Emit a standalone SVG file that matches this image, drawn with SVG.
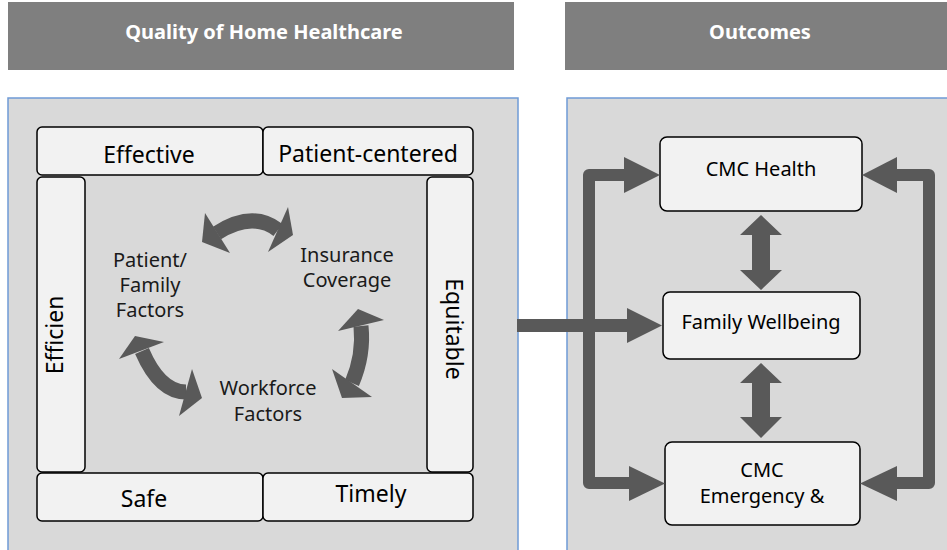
<svg xmlns="http://www.w3.org/2000/svg" width="947" height="550" viewBox="0 0 947 550">
  <style>
    .hdr { fill: #7f7f7f; }
    .hdr-t { font-family: "Noto Sans", "Liberation Sans", sans-serif; font-weight: bold; font-size: 20px; fill: #ffffff; text-anchor: middle; }
    .panel { fill: #d9d9d9; stroke: #6f9bd6; stroke-width: 1.5; }
    .box { fill: #f2f2f2; stroke: #000000; stroke-width: 1.5; }
    .lbl { font-family: "Noto Sans", "Liberation Sans", sans-serif; font-size: 23px; fill: #000000; text-anchor: middle; }
    .ctr { font-family: "Noto Sans", "Liberation Sans", sans-serif; font-size: 20px; fill: #1a1a1a; text-anchor: middle; }
    .out { font-family: "Noto Sans", "Liberation Sans", sans-serif; font-size: 20px; fill: #000000; text-anchor: middle; }
    .arr { fill: #595959; }
    .band { fill: none; stroke: #595959; stroke-width: 15; }
    .bar { fill: none; stroke: #595959; stroke-width: 12; stroke-linejoin: round; }
  </style>

  <!-- column headers -->
  <g id="header-quality">
    <rect class="hdr" x="8" y="2" width="506" height="68"/>
    <text class="hdr-t" x="264" y="39">Quality of Home Healthcare</text>
  </g>
  <g id="header-outcomes">
    <rect class="hdr" x="565" y="2" width="390" height="68"/>
    <text class="hdr-t" x="760" y="39">Outcomes</text>
  </g>

  <!-- background panels -->
  <g id="panel-quality">
    <rect class="panel" x="8" y="98" width="510" height="470"/>
  </g>
  <g id="panel-outcomes">
    <rect class="panel" x="567" y="98" width="400" height="470"/>
  </g>

  <!-- quality domains framing the factors -->
  <g id="effective">
    <rect class="box" x="37" y="127" width="226" height="48" rx="5"/>
    <text class="lbl" x="149" y="163">Effective</text>
  </g>
  <g id="patient-centered">
    <rect class="box" x="263" y="127" width="210" height="48" rx="5"/>
    <text class="lbl" x="368" y="162">Patient-centered</text>
  </g>
  <g id="efficient">
    <rect class="box" x="37" y="177" width="48" height="295" rx="5"/>
    <text class="lbl" transform="translate(63,335) rotate(-90)">Efficien</text>
  </g>
  <g id="equitable">
    <rect class="box" x="427" y="177" width="46" height="295" rx="5"/>
    <text class="lbl" transform="translate(446,329) rotate(90)">Equitable</text>
  </g>
  <g id="safe">
    <rect class="box" x="37" y="473" width="226" height="48" rx="5"/>
    <text class="lbl" x="144" y="507">Safe</text>
  </g>
  <g id="timely">
    <rect class="box" x="263" y="473" width="210" height="48" rx="5"/>
    <text class="lbl" x="371" y="502">Timely</text>
  </g>

  <!-- factors inside the frame -->
  <g id="patient-family-factors">
    <text class="ctr" x="150" y="267">Patient/</text>
    <text class="ctr" x="150" y="292">Family</text>
    <text class="ctr" x="150" y="317">Factors</text>
  </g>
  <g id="insurance-coverage">
    <text class="ctr" x="347" y="262">Insurance</text>
    <text class="ctr" x="347" y="287">Coverage</text>
  </g>
  <g id="workforce-factors">
    <text class="ctr" x="268" y="395">Workforce</text>
    <text class="ctr" x="268" y="421">Factors</text>
  </g>

  <!-- outcome boxes -->
  <g id="cmc-health">
    <rect class="box" x="660" y="137" width="202" height="74" rx="7"/>
    <text class="out" x="761" y="176">CMC Health</text>
  </g>
  <g id="family-wellbeing">
    <rect class="box" x="663" y="292" width="197" height="67" rx="7"/>
    <text class="out" x="761" y="329">Family Wellbeing</text>
  </g>
  <g id="cmc-emergency">
    <rect class="box" x="665" y="442" width="195" height="83" rx="7"/>
    <text class="out" x="762" y="477">CMC</text>
    <text class="out" x="762" y="503">Emergency &amp;</text>
  </g>

  <g id="connectors">
    <!-- curved double arrows between the factors -->
    <path class="band" d="M217,233 Q252.5,210.5 278,230"/>
    <polygon class="arr" points="205,213 202,242 230,253"/>
    <polygon class="arr" points="288,207 293,235 268,252"/>

    <path class="band" d="M361,326 Q364,355 352,383"/>
    <polygon class="arr" points="338,331 358,309 384,320"/>
    <polygon class="arr" points="332,369 342,398 372,397"/>

    <path class="band" d="M142,351 Q159.7,392 186,392"/>
    <polygon class="arr" points="119,359 135,336 164,342"/>
    <polygon class="arr" points="192,369 202,398 179,416"/>

    <!-- quality feeds family wellbeing -->
    <rect class="arr" x="517" y="319" width="111" height="13"/>
    <polygon class="arr" points="627,308 662,325.5 627,343"/>

    <!-- left bracket to health and emergency -->
    <path class="bar" d="M625,175 H589 V483 H630"/>
    <polygon class="arr" points="624,157 660,175 624,193"/>
    <polygon class="arr" points="629,466 665,483.5 629,501"/>

    <!-- right bracket to health and emergency -->
    <path class="bar" d="M896,175 H929 V483 H896"/>
    <polygon class="arr" points="897,157 862,175 897,193"/>
    <polygon class="arr" points="897,466 860,483.5 897,501"/>

    <!-- vertical double arrows between outcomes -->
    <polygon class="arr" points="761,215 782,235 770,235 770,270 782,270 761,290 740,270 752,270 752,235 740,235"/>
    <polygon class="arr" points="761,363 782,383 770,383 770,417 782,417 761,438 740,417 752,417 752,383 740,383"/>
  </g>
</svg>
